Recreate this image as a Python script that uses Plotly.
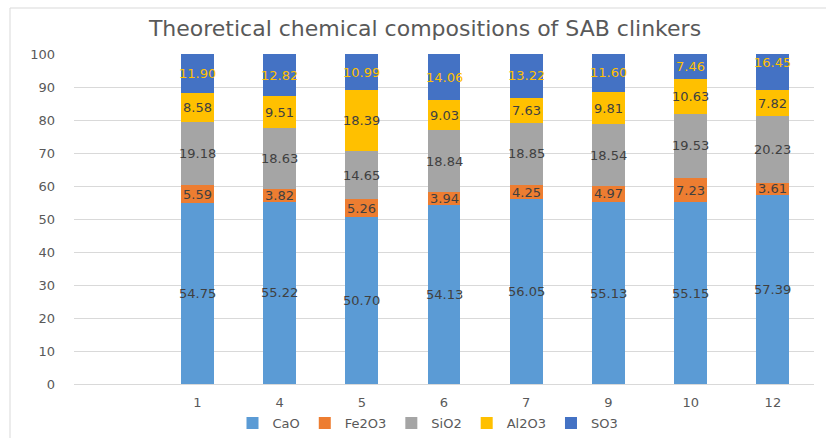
import plotly.graph_objects as go

categories = ["1", "4", "5", "6", "7", "9", "10", "12"]
CaO = [54.75, 55.22, 50.70, 54.13, 56.05, 55.13, 55.15, 57.39]
Fe2O3 = [5.59, 3.82, 5.26, 3.94, 4.25, 4.97, 7.23, 3.61]
SiO2 = [19.18, 18.63, 14.65, 18.84, 18.85, 18.54, 19.53, 20.23]
Al2O3 = [8.58, 9.51, 18.39, 9.03, 7.63, 9.81, 10.63, 7.82]
SO3 = [11.90, 12.82, 10.99, 14.06, 13.22, 11.60, 7.46, 16.45]

series = [
    ("CaO", CaO, "#5B9BD5", "#404040"),
    ("Fe2O3", Fe2O3, "#ED7D31", "#404040"),
    ("SiO2", SiO2, "#A5A5A5", "#404040"),
    ("Al2O3", Al2O3, "#FFC000", "#404040"),
    ("SO3", SO3, "#4472C4", "#FFC000"),
]

FONT = "DejaVu Sans"
W, H = 826, 438
L, R, T, B = 74, 12, 54, 54
pw = W - L - R
ph = H - T - B

fig = go.Figure()
annotations = []
base = [0.0] * len(categories)
for name, vals, color, tcolor in series:
    fig.add_trace(go.Bar(
        x=categories, y=vals, name=name,
        marker=dict(color=color, line=dict(width=0)),
        textposition="none", hoverinfo="skip",
    ))
    for i, v in enumerate(vals):
        # category axis: annotation x given as the category's index position
        annotations.append(dict(
            x=i, y=base[i] + v / 2, xref="x", yref="y",
            text=f"{v:.2f}", showarrow=False,
            font=dict(family=FONT, size=13, color=tcolor),
            xanchor="center", yanchor="middle",
        ))
        base[i] += v

fig.update_layout(
    width=W, height=H,
    barmode="stack", bargap=0.6,
    margin=dict(l=L, r=R, t=T, b=B, autoexpand=False),
    paper_bgcolor="white", plot_bgcolor="white",
    annotations=annotations,
    title=dict(text="Theoretical chemical compositions of SAB clinkers",
               font=dict(family=FONT, size=22, color="#595959"),
               x=425 / W, xanchor="center", y=1 - 28 / H, yanchor="middle"),
    xaxis=dict(type="category", range=[-1.5, 7.5], showgrid=False,
               showline=True, linecolor="#D9D9D9", linewidth=1,
               ticks="", tickfont=dict(family=FONT, size=13, color="#595959"),
               ticklabelstandoff=6, zeroline=False, automargin=False),
    yaxis=dict(range=[0, 100], dtick=10, showgrid=True, gridcolor="#D9D9D9",
               gridwidth=1, zeroline=False, showline=False, ticks="",
               tickfont=dict(family=FONT, size=13, color="#595959"),
               ticklabelstandoff=18, automargin=False),
    legend=dict(orientation="h", xref="container", yref="container",
                x=428 / W, xanchor="center",
                y=1 - 423 / H, yanchor="middle",
                font=dict(family=FONT, size=13, color="#595959"),
                traceorder="normal", itemwidth=30),
    showlegend=True,
    shapes=[dict(type="rect", xref="paper", yref="paper",
                 x0=(10 - L) / pw, x1=2, y0=-1, y1=(384 - 8) / ph,
                 line=dict(color="#D9D9D9", width=1), layer="below")],
)

fig.write_html("out.html", config={"displayModeBar": False},
               post_script="document.body.style.margin='0';document.body.style.padding='0';")
